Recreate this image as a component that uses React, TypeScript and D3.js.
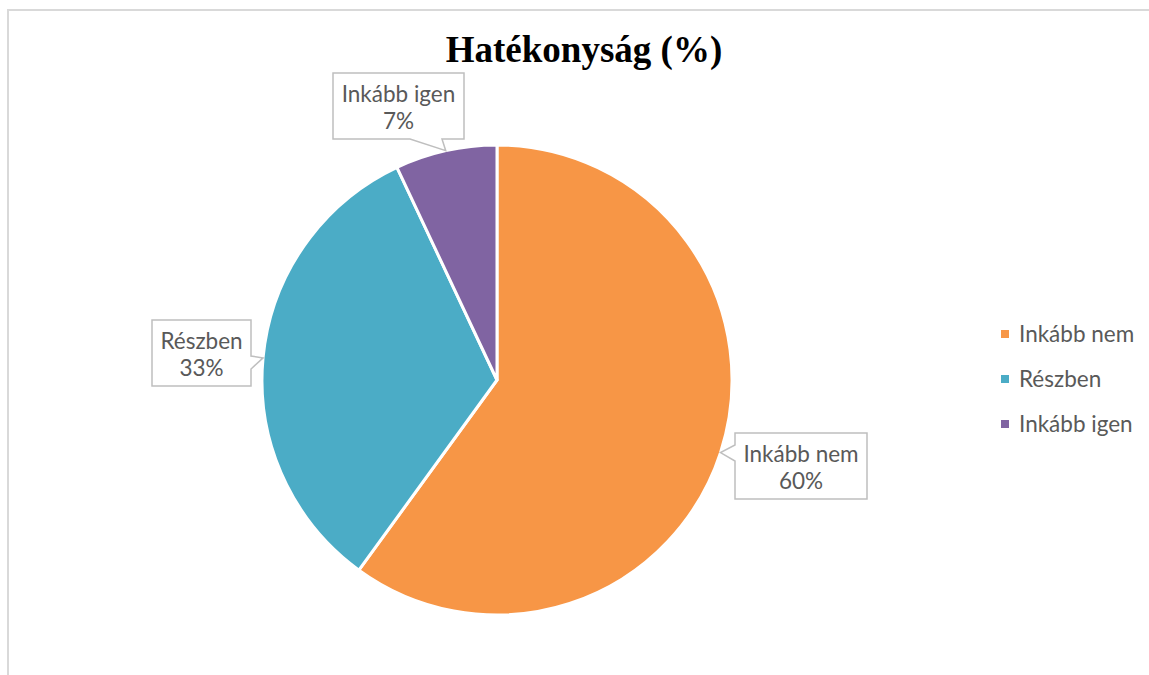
import React from "react";
import * as d3 from "d3";

const categories = ["Inkább nem", "Részben", "Inkább igen"];
const values = [60, 33, 7];
const colors = ["#F79646", "#4BACC6", "#8064A2"];
const title = "Hatékonyság (%)";

// label box layout: box rect + side where pointer attaches
const labelBoxes = [
  { x: 735, y: 433, w: 132, h: 66, side: "left", base: [445, 461] },
  { x: 152, y: 320, w: 99, h: 66, side: "right", base: [356, 369] },
  { x: 333, y: 73, w: 131, h: 66, side: "bottom", base: [410, 442] },
];

const W = 1149;
const H = 675;
const cx = 497;
const cy = 380;
const R = 235;
const labelFont = "Lato, 'Open Sans', sans-serif";
const labelSize = 22.5;

function calloutPath(b: any, tip: [number, number]) {
  const x0 = b.x, y0 = b.y, x1 = b.x + b.w, y1 = b.y + b.h;
  const p = d3.path();
  p.moveTo(x0, y0);
  p.lineTo(x1, y0);
  if (b.side === "right") {
    p.lineTo(x1, b.base[0]);
    p.lineTo(tip[0], tip[1]);
    p.lineTo(x1, b.base[1]);
  }
  p.lineTo(x1, y1);
  if (b.side === "bottom") {
    p.lineTo(b.base[1], y1);
    p.lineTo(tip[0], tip[1]);
    p.lineTo(b.base[0], y1);
  }
  p.lineTo(x0, y1);
  if (b.side === "left") {
    p.lineTo(x0, b.base[1]);
    p.lineTo(tip[0], tip[1]);
    p.lineTo(x0, b.base[0]);
  }
  p.closePath();
  return p.toString();
}

export default function App() {
  const data = categories.map((c, i) => ({ name: c, value: values[i], color: colors[i] }));
  const pie = d3.pie<any>().value((d) => d.value).sort(null);
  const arcs = pie(data);
  const arc = d3.arc<any>().innerRadius(0).outerRadius(R);
  const total = d3.sum(values);

  return (
    <div style={{ position: "absolute", left: 0, top: 0 }}>
      <svg width={W} height={H} style={{ display: "block" }}>
        <rect x={0} y={0} width={W} height={H} fill="#fff" />
        <rect x={8} y={10} width={W + 20} height={H + 20} fill="#fff" stroke="#D9D9D9" strokeWidth={2} />
        <text x={584} y={62} textAnchor="middle" fontFamily="'Liberation Serif', 'Times New Roman', serif" fontWeight="bold" fontSize={37} fill="#000">
          {title}
        </text>
        <g transform={`translate(${cx},${cy})`}>
          {arcs.map((a, i) => (
            <path key={i} d={arc(a) as string} fill={a.data.color} stroke="#fff" strokeWidth={3} strokeLinejoin="round" />
          ))}
        </g>
        {arcs.map((a, i) => {
          const mid = (a.startAngle + a.endAngle) / 2;
          const tip: [number, number] = [cx + R * Math.sin(mid), cy - R * Math.cos(mid)];
          const b = labelBoxes[i];
          const pct = Math.round((a.data.value / total) * 100) + "%";
          return (
            <g key={i}>
              <path d={calloutPath(b, tip)} fill="#fff" stroke="#BFBFBF" strokeWidth={1.5} />
              <text x={b.x + b.w / 2} y={b.y + 29} textAnchor="middle" fontFamily={labelFont} fontSize={labelSize} fill="#595959">
                {a.data.name}
              </text>
              <text x={b.x + b.w / 2} y={b.y + 56} textAnchor="middle" fontFamily={labelFont} fontSize={labelSize} fill="#595959">
                {pct}
              </text>
            </g>
          );
        })}
        {data.map((d, i) => (
          <g key={i} transform={`translate(1001,${334 + i * 45})`}>
            <rect x={0} y={-4} width={8} height={8} fill={d.color} />
            <text x={18} y={8} fontFamily={labelFont} fontSize={labelSize} fill="#595959">
              {d.name}
            </text>
          </g>
        ))}
      </svg>
    </div>
  );
}
